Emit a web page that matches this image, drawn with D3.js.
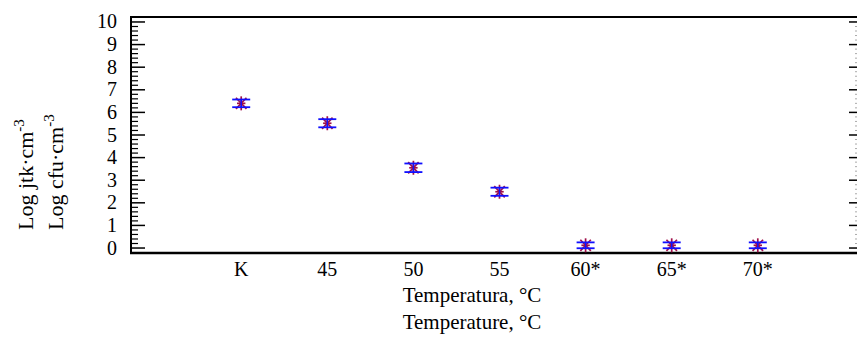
<!DOCTYPE html>
<meta charset="utf-8">
<div id="chart"></div>
<style>
body { margin: 0; background: #fff; font-family: 'Liberation Serif', 'Times New Roman', serif; }
</style>
<script src="https://d3js.org/d3.v7.min.js"></script>
<script>
var categories = ['K', '45', '50', '55', '60*', '65*', '70*'];
var logValues = [6.40, 5.52, 3.55, 2.49, 0.12, 0.12, 0.12];
var errValues = [0.17, 0.18, 0.19, 0.18, 0.13, 0.13, 0.13];
var yTicks = [0, 1, 2, 3, 4, 5, 6, 7, 8, 9, 10];

var w = 857, h = 343;
var svg = d3.select('#chart').append('svg')
  .attr('width', w)
  .attr('height', h);

var x = d3.scaleLinear().domain([-0.28, 8.28]).range([131, 868]);
var y = d3.scaleLinear().domain([-0.22, 10.22]).range([253, 17]);

// frame
svg.append('line').attr('x1', 131).attr('x2', 131).attr('y1', 17).attr('y2', 253)
  .attr('stroke', '#000').attr('stroke-width', 2);
svg.append('line').attr('x1', 130).attr('x2', 857).attr('y1', 17).attr('y2', 17)
  .attr('stroke', '#000').attr('stroke-width', 2);
svg.append('line').attr('x1', 130).attr('x2', 857).attr('y1', 253).attr('y2', 253)
  .attr('stroke', '#000').attr('stroke-width', 2.5);

// y ticks, major + minor
var minor = d3.range(0, 10.01, 0.2).filter(function(v){ return Math.abs(v - Math.round(v)) > 0.01; });
svg.selectAll('.ymaj').data(yTicks).enter().append('line')
  .attr('x1', 131).attr('x2', 145)
  .attr('y1', function(d){ return y(d); }).attr('y2', function(d){ return y(d); })
  .attr('stroke', '#000').attr('stroke-width', 1.5);
svg.selectAll('.ymin').data(minor).enter().append('line')
  .attr('x1', 131).attr('x2', 138)
  .attr('y1', function(d){ return y(d); }).attr('y2', function(d){ return y(d); })
  .attr('stroke', '#000').attr('stroke-width', 1.2);
// right side ticks
svg.selectAll('.rmaj').data(yTicks).enter().append('line')
  .attr('x1', 849).attr('x2', 857)
  .attr('y1', function(d){ return y(d); }).attr('y2', function(d){ return y(d); })
  .attr('stroke', '#000').attr('stroke-width', 1.5);
svg.selectAll('.rmin').data(minor).enter().append('line')
  .attr('x1', 855).attr('x2', 857)
  .attr('y1', function(d){ return y(d); }).attr('y2', function(d){ return y(d); })
  .attr('stroke', '#aaa').attr('stroke-width', 1);

svg.selectAll('.ylab').data(yTicks).enter().append('text')
  .attr('x', 117).attr('y', function(d){ return y(d) + 6.5; })
  .attr('text-anchor', 'end')
  .style('font-size', '20px')
  .text(function(d){ return d; });

// x tick labels
svg.selectAll('.xlab').data(categories).enter().append('text')
  .attr('x', function(d, i){ return x(i + 1); })
  .attr('y', 276)
  .attr('text-anchor', 'middle')
  .style('font-size', '20px')
  .text(function(d){ return d; });

// axis titles
svg.append('text').attr('x', 472).attr('y', 302).attr('text-anchor', 'middle')
  .style('font-size', '21px').text('Temperatura, °C');
svg.append('text').attr('x', 472).attr('y', 329).attr('text-anchor', 'middle')
  .style('font-size', '21px').text('Temperature, °C');

var yl1 = svg.append('text').attr('transform', 'translate(33,230) rotate(-90)')
  .style('font-size', '22px');
yl1.append('tspan').text('Log jtk·cm');
yl1.append('tspan').attr('dy', -9).style('font-size', '15px').text('-3');
var yl2 = svg.append('text').attr('transform', 'translate(63,230) rotate(-90)')
  .style('font-size', '22px');
yl2.append('tspan').text('Log cfu·cm');
yl2.append('tspan').attr('dy', -9).style('font-size', '15px').text('-3');

// points: asterisk markers
var pts = svg.selectAll('.pt').data(logValues).enter().append('g')
  .attr('transform', function(d, i){ return 'translate(' + x(i + 1) + ',' + y(d) + ')'; });
var r = 7;
[[0, -r, 0, r], [-r * 0.75, -r * 0.8, r * 0.75, r * 0.8], [-r * 0.75, r * 0.8, r * 0.75, -r * 0.8], [-r * 0.6, 0, r * 0.6, 0]].forEach(function(s){
  pts.append('line').attr('x1', s[0]).attr('y1', s[1]).attr('x2', s[2]).attr('y2', s[3])
    .attr('stroke', '#a0104a').attr('stroke-width', 1.7);
});

// error bars
var eb = svg.selectAll('.eb').data(logValues).enter().append('g');
eb.append('line')
  .attr('x1', function(d, i){ return x(i + 1); }).attr('x2', function(d, i){ return x(i + 1); })
  .attr('y1', function(d, i){ return y(d + errValues[i]); })
  .attr('y2', function(d, i){ return y(d - errValues[i]); })
  .attr('stroke', '#1010ff').attr('stroke-width', 1.5);
eb.append('line')
  .attr('x1', function(d, i){ return x(i + 1) - 9; }).attr('x2', function(d, i){ return x(i + 1) + 9; })
  .attr('y1', function(d, i){ return y(d + errValues[i]); })
  .attr('y2', function(d, i){ return y(d + errValues[i]); })
  .attr('stroke', '#1010ff').attr('stroke-width', 1.8);
eb.append('line')
  .attr('x1', function(d, i){ return x(i + 1) - 9; }).attr('x2', function(d, i){ return x(i + 1) + 9; })
  .attr('y1', function(d, i){ return y(d - errValues[i]); })
  .attr('y2', function(d, i){ return y(d - errValues[i]); })
  .attr('stroke', '#1010ff').attr('stroke-width', 1.8);
</script>
